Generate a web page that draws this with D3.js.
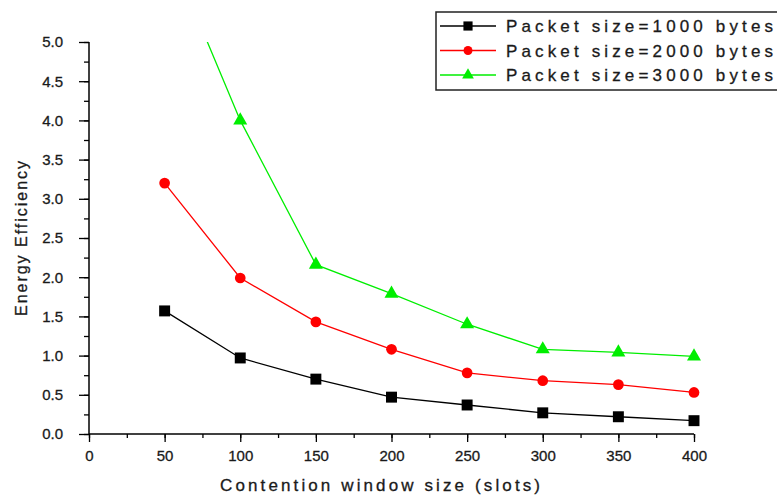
<!DOCTYPE html>
<meta charset="utf-8">
<style>
body { margin: 0; background: #fff; }
svg { font-family: "Liberation Sans", Arial, sans-serif; }
</style>
<svg width="777" height="496"></svg>
<script src="https://d3js.org/d3.v7.min.js"></script>
<script>
// contention window (slots)
var windows = [50, 100, 150, 200, 250, 300, 350, 400];
var eff1000 = [1.57, 0.97, 0.70, 0.47, 0.37, 0.27, 0.22, 0.17];
var eff2000 = [3.20, 1.99, 1.43, 1.08, 0.78, 0.68, 0.63, 0.53];
var eff3000 = [6.30, 4.00, 2.16, 1.79, 1.40, 1.08, 1.04, 0.99];
var seriesNames = ["Packet size=1000 bytes", "Packet size=2000 bytes", "Packet size=3000 bytes"];
var xTicks = [0, 50, 100, 150, 200, 250, 300, 350, 400];
var yTicks = [0, 0.5, 1, 1.5, 2, 2.5, 3, 3.5, 4, 4.5, 5];

var svg = d3.select("svg");
var mLeft = 89, mRight = 694, mTop = 42, mBottom = 434;

var x = d3.scaleLinear().domain([0, 400]).range([mLeft, mRight]);
var y = d3.scaleLinear().domain([0, 5]).range([mBottom, mTop]);

svg.append("defs").append("clipPath").attr("id", "plot")
  .append("rect").attr("x", mLeft).attr("y", mTop).attr("width", mRight - mLeft + 10).attr("height", mBottom - mTop);

// x axis: minor then major ticks
var gx = svg.append("g").attr("transform", "translate(0," + mBottom + ")");
gx.append("g").call(d3.axisBottom(x).tickValues(d3.range(0, 401, 25)).tickSize(4).tickFormat(""));
gx.append("g").call(d3.axisBottom(x).tickValues(xTicks).tickSize(8).tickPadding(8).tickFormat(d3.format("d")));
gx.selectAll(".domain").remove();
svg.append("line").attr("x1", mLeft).attr("x2", mRight).attr("y1", mBottom).attr("y2", mBottom)
  .attr("stroke", "#000").attr("stroke-width", 1.5);

var gy = svg.append("g").attr("transform", "translate(" + mLeft + ",0)");
gy.append("g").call(d3.axisLeft(y).tickValues(d3.range(0, 5.01, 0.25)).tickSize(5).tickFormat(""));
gy.append("g").call(d3.axisLeft(y).tickValues(yTicks).tickSize(10).tickPadding(16).tickFormat(d3.format(".1f")));
gy.selectAll(".domain").remove();
svg.append("line").attr("x1", mLeft).attr("x2", mLeft).attr("y1", mTop).attr("y2", mBottom)
  .attr("stroke", "#000").attr("stroke-width", 1.5);
svg.selectAll(".tick line").attr("stroke", "#000").attr("stroke-width", 1.3);
svg.selectAll(".tick text").attr("font-size", 15).attr("fill", "#1a1a1a")
  .attr("stroke", "#1a1a1a").attr("stroke-width", 0.3)
  .attr("font-family", "'Liberation Sans', Arial, sans-serif");

// axis titles
svg.append("text").attr("x", 220).attr("y", 491)
  .attr("textLength", 320).attr("lengthAdjust", "spacing")
  .attr("font-size", 17).attr("fill", "#1a1a1a")
  .attr("stroke", "#1a1a1a").attr("stroke-width", 0.3)
  .text("Contention window size (slots)");
svg.append("text").attr("transform", "translate(27,316) rotate(-90)")
  .attr("textLength", 155).attr("lengthAdjust", "spacing")
  .attr("font-size", 16).attr("fill", "#1a1a1a")
  .attr("stroke", "#1a1a1a").attr("stroke-width", 0.3)
  .text("Energy Efficiency");

var series = [
  { name: seriesNames[0], vals: eff1000, color: "#000000", shape: d3.symbolSquare, size: 120 },
  { name: seriesNames[1], vals: eff2000, color: "#ff0000", shape: d3.symbolCircle, size: 90 },
  { name: seriesNames[2], vals: eff3000, color: "#00ee00", shape: d3.symbolTriangle, size: 85 }
];

var line = d3.line().x(function(d) { return x(d[0]); }).y(function(d) { return y(d[1]); });
var plot = svg.append("g").attr("clip-path", "url(#plot)");

series.forEach(function(s) {
  var pts = windows.map(function(w, i) { return [w, s.vals[i]]; });
  plot.append("path").datum(pts).attr("d", line)
    .attr("fill", "none").attr("stroke", s.color).attr("stroke-width", 1.3);
  plot.selectAll(null).data(pts).enter().append("path")
    .attr("transform", function(d) { return "translate(" + x(d[0]) + "," + y(d[1]) + ")"; })
    .attr("d", d3.symbol().type(s.shape).size(s.size))
    .attr("fill", s.color);
});

// legend
var lg = svg.append("g");
lg.append("rect").attr("x", 436).attr("y", 12).attr("width", 345).attr("height", 78)
  .attr("fill", "#fff").attr("stroke", "#222").attr("stroke-width", 1.5);
series.forEach(function(s, i) {
  var cy = 26 + i * 24.5;
  lg.append("line").attr("x1", 440).attr("x2", 496).attr("y1", cy).attr("y2", cy)
    .attr("stroke", s.color).attr("stroke-width", 1.3);
  lg.append("path").attr("transform", "translate(468," + cy + ")")
    .attr("d", d3.symbol().type(s.shape).size(s.size * 0.7)).attr("fill", s.color);
  lg.append("text").attr("x", 506).attr("y", cy + 6)
    .attr("textLength", 267).attr("lengthAdjust", "spacing")
    .attr("font-size", 17).attr("fill", "#1a1a1a")
    .attr("stroke", "#1a1a1a").attr("stroke-width", 0.3)
    .text(s.name);
});
</script>
